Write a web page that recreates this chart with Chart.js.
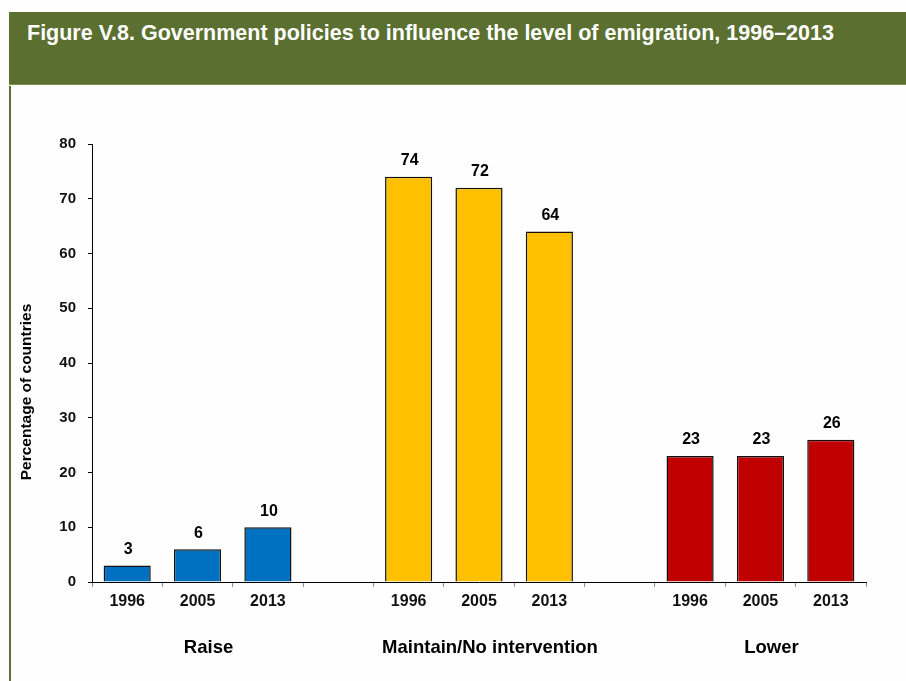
<!DOCTYPE html>
<html>
<head>
<meta charset="utf-8">
<script src="https://cdn.jsdelivr.net/npm/chart.js@4.4.0/dist/chart.umd.min.js"></script>
<style>
  body { margin: 0; background: #fefefe; font-family: "Liberation Sans", Arial, sans-serif; }
  #page { position: relative; width: 906px; height: 681px; overflow: hidden; }
  #header {
    position: absolute; left: 9px; top: 12px; width: 897px; height: 73px;
    background: #5b7030; border-bottom: 1px solid #7d9050;
    color: #fff; font-weight: bold; font-size: 21.5px; line-height: 21.5px;
    box-sizing: border-box; padding: 11px 0 0 18px; white-space: nowrap;
  }
  #rule { position: absolute; left: 9px; top: 86px; width: 2px; height: 595px; background: #5b7030; }
  #chart { position: absolute; left: 0; top: 0; }
</style>
</head>
<body>
<div id="page">
  <div id="header">Figure V.8. Government policies to influence the level of emigration, 1996–2013</div>
  <div id="rule"></div>
  <canvas id="chart" width="906" height="681"></canvas>
</div>
<script>
// Policy groups and survey years
const years = ['1996', '2005', '2013'];
const groups = ['Raise', 'Maintain/No intervention', 'Lower'];

// Percentage of countries per policy, by year
const raise = [3, 6, 10];
const maintain = [74, 72, 64];
const lower = [23, 23, 26];

const yTicks = [0, 10, 20, 30, 40, 50, 60, 70, 80];
const groupColors = ['#0070c0', '#ffc000', '#c00000'];

// Lay the groups out on one category axis with an empty slot between them
const series = [raise, maintain, lower];
const labels = [];
const values = [];
const colors = [];
series.forEach((vals, g) => {
    if (g > 0) {
        labels.push('');
        values.push(null);
        colors.push('transparent');
    }
    vals.forEach((v, i) => {
        labels.push(years[i]);
        values.push(v);
        colors.push(groupColors[g]);
    });
});

const FONT = '"Liberation Sans", Arial, sans-serif';

// Value labels, the group names and the rotated y-axis title
const annotations = {
    id: 'annotations',
    afterDatasetsDraw(chart) {
        const ctx = chart.ctx;
        const x = chart.scales.x;
        ctx.save();
        ctx.fillStyle = '#000';
        ctx.textAlign = 'center';

        ctx.font = 'bold 16px ' + FONT;
        ctx.textBaseline = 'bottom';
        chart.getDatasetMeta(0).data.forEach((bar, i) => {
            const v = values[i];
            if (v === null) return;
            ctx.fillText(Math.round(v), bar.x + 1, bar.y - 8);
        });

        ctx.font = 'bold 18.5px ' + FONT;
        ctx.textBaseline = 'middle';
        groups.forEach((name, g) => {
            const mid = x.getPixelForValue(g * 4 + 1);
            ctx.fillText(name, mid + 11, 648);
        });

        ctx.font = 'bold 15.5px ' + FONT;
        ctx.translate(27, (chart.chartArea.top + chart.chartArea.bottom) / 2 + 29);
        ctx.rotate(-Math.PI / 2);
        ctx.fillText('Percentage of countries', 0, 0);
        ctx.restore();
    }
};

new Chart(document.getElementById('chart'), {
    type: 'bar',
    data: {
        labels: labels,
        datasets: [{
            data: values,
            backgroundColor: colors,
            borderColor: '#111',
            borderWidth: 1.5,
            barPercentage: 0.67,
            categoryPercentage: 1
        }]
    },
    options: {
        responsive: false,
        animation: false,
        layout: { padding: { top: 144, right: 40, left: 0, bottom: 0 } },
        plugins: {
            legend: { display: false },
            tooltip: { enabled: false }
        },
        scales: {
            x: {
                afterFit(scale) { scale.height = 99; },
                grid: {
                    offset: true,
                    drawOnChartArea: false,
                    tickLength: 5,
                    tickColor: '#888'
                },
                border: { color: '#000', width: 1 },
                ticks: {
                    color: '#111',
                    padding: 5,
                    font: { family: FONT, size: 16, weight: 'bold' }
                }
            },
            y: {
                min: 0,
                max: 80,
                afterFit(scale) { scale.width = 92; },
                afterBuildTicks(scale) { scale.ticks = yTicks.map(v => ({ value: v })); },
                grid: {
                    drawOnChartArea: false,
                    tickLength: 4,
                    tickColor: '#000'
                },
                border: { color: '#000', width: 1 },
                ticks: {
                    color: '#111',
                    padding: 12,
                    font: { family: FONT, size: 15, weight: 'bold' }
                }
            }
        }
    },
    plugins: [annotations]
});
</script>
</body>
</html>
